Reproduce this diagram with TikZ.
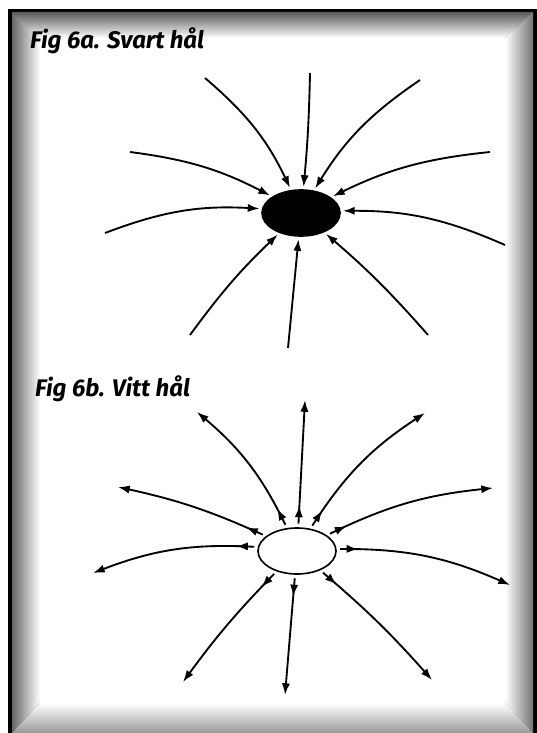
\documentclass[tikz,border=0pt]{standalone}
\usepackage{fontspec}
\setsansfont{Fira Sans}
\usetikzlibrary{shapes.geometric,arrows.meta,decorations.markings}
\begin{document}
\begin{tikzpicture}[x=0.03cm,y=-0.03cm,
  hole/.style={draw,ellipse,minimum width=2.34cm,minimum height=1.38cm,inner sep=0pt,line width=1.4pt},
  inward/.style={line width=1.6pt,-{Latex[length=10pt,width=7pt]},shorten >=2pt},
  outward/.style={line width=1.6pt,-{Latex[length=10pt,width=7pt]},shorten <=3pt,
    postaction={decorate},decoration={markings,
      mark=at position 0.65cm with {\arrow{Latex[length=10pt,width=7pt]}}}},
  title/.style={anchor=base west,inner sep=0pt,font=\sffamily\bfseries\itshape\fontsize{20.5}{24}\selectfont}]
  \useasboundingbox (0,0) rectangle (537,733);
  \fill[white] (0,0) rectangle (537,733);
  \fill[black] (8,9) rectangle (537,733);
  \shade[top color=black!65,bottom color=white] (12,12) -- (533,12) -- (505,38) -- (40,38) -- cycle;
  \shade[left color=black!60,right color=white] (12,12) -- (40,38) -- (40,703) -- (12,733) -- cycle;
  \shade[left color=white,right color=black!55] (533,12) -- (533,733) -- (505,703) -- (505,38) -- cycle;
  \shade[top color=white,bottom color=black!40] (12,733) -- (40,703) -- (505,703) -- (533,733) -- cycle;
  \fill[white] (40,38) rectangle (505,703);

  \node[title] (t1) at (30,49) {Fig 6a. Svart hål};
  \node[hole,fill=black] (bh) at (301,213) {};
  \coordinate (a1) at (205,78);
  \coordinate (a2) at (310,73);
  \coordinate (a3) at (130,152);
  \coordinate (a4) at (105,233);
  \coordinate (a5) at (420,80);
  \coordinate (a6) at (490,152);
  \coordinate (a7) at (505,245);
  \coordinate (a8) at (190,335);
  \coordinate (a9) at (288,348);
  \coordinate (a10) at (428,335);
  \draw[inward] (a1) to[bend left=12] (bh);
  \draw[inward] (a2) to[bend left=2] (bh);
  \draw[inward] (a3) to[bend left=10] (bh);
  \draw[inward] (a4) to[bend left=12] (bh);
  \draw[inward] (a5) to[bend right=12] (bh);
  \draw[inward] (a6) to[bend right=10] (bh);
  \draw[inward] (a7) to[bend right=12] (bh);
  \draw[inward] (a8) to[bend left=5] (bh);
  \draw[inward] (a9) -- (bh);
  \draw[inward] (a10) to[bend right=4] (bh);

  \node[title] (t2) at (35,396) {Fig 6b. Vitt hål};
  \node[hole] (wh) at (297,551) {};
  \coordinate (b1) at (197,412);
  \coordinate (b2) at (305,400);
  \coordinate (b3) at (118,487);
  \coordinate (b4) at (93,573);
  \coordinate (b5) at (425,413);
  \coordinate (b6) at (493,488);
  \coordinate (b7) at (510,585);
  \coordinate (b8) at (183,682);
  \coordinate (b9) at (285,695);
  \coordinate (b10) at (432,680);
  \draw[outward] (wh) to[bend right=12] (b1);
  \draw[outward] (wh) -- (b2);
  \draw[outward] (wh) to[bend right=6] (b3);
  \draw[outward] (wh) to[bend right=12] (b4);
  \draw[outward] (wh) to[bend left=12] (b5);
  \draw[outward] (wh) to[bend left=10] (b6);
  \draw[outward] (wh) to[bend left=12] (b7);
  \draw[outward] (wh) to[bend right=4] (b8);
  \draw[outward] (wh) -- (b9);
  \draw[outward] (wh) to[bend left=4] (b10);
\end{tikzpicture}
\end{document}
